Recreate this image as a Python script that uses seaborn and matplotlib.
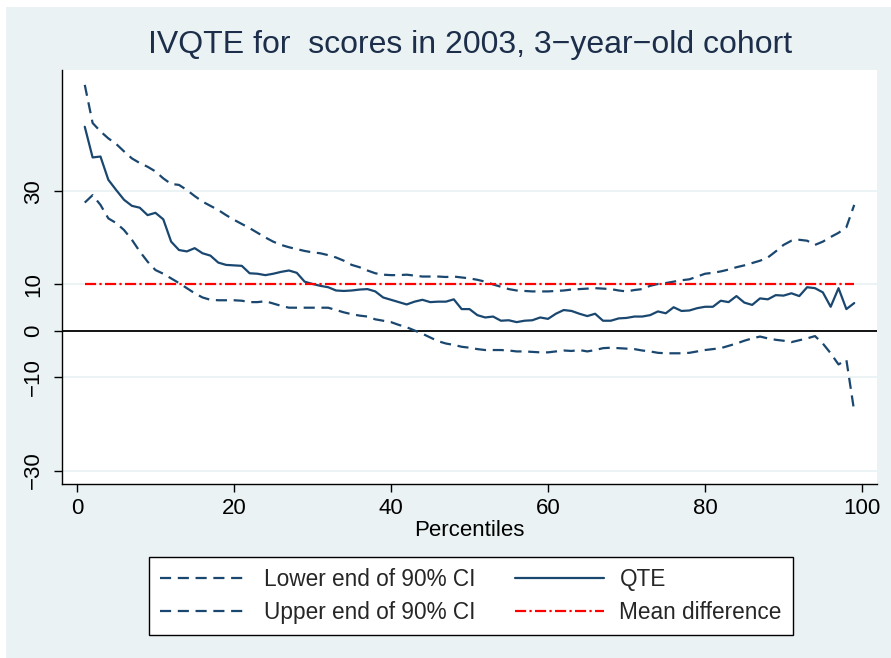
import numpy as np
import matplotlib
matplotlib.use("Agg")
import matplotlib.pyplot as plt
from matplotlib.patches import Rectangle
import seaborn as sns

# percentiles on the x axis
pct = np.arange(1, 100)

upper_ci = [52.9, 44.7, 42.9, 41.4, 40.2, 38.6, 37.1, 36.1, 35.3, 34.3,
            32.8, 31.6, 31.4, 30.3, 29.0, 27.8, 26.9, 26.0, 24.9, 23.9,
            23.0, 22.1, 21.1, 20.1, 19.2, 18.5, 18.0, 17.6, 17.2, 16.9,
            16.7, 16.3, 15.8, 15.1, 14.2, 13.7, 13.0, 12.4, 12.1, 12.0,
            12.0, 12.1, 11.9, 11.7, 11.7, 11.7, 11.6, 11.7, 11.5, 11.3,
            11.0, 10.6, 10.0, 9.5, 9.0, 8.7, 8.6, 8.5, 8.5, 8.5,
            8.6, 8.7, 8.9, 9.0, 9.1, 9.2, 9.1, 9.0, 8.7, 8.5,
            8.8, 9.0, 9.7, 10.1, 10.3, 10.6, 10.9, 11.1, 11.7, 12.3,
            12.5, 12.8, 13.2, 13.7, 14.1, 14.6, 15.1, 15.8, 17.1, 18.5,
            19.4, 19.6, 19.4, 18.5, 19.2, 20.2, 21.1, 22.3, 27.1]

qte = [43.9, 37.3, 37.5, 32.5, 30.3, 28.2, 26.9, 26.5, 24.9, 25.4,
       24.0, 19.2, 17.4, 17.1, 17.8, 16.7, 16.2, 14.7, 14.2, 14.1,
       14.0, 12.4, 12.3, 12.0, 12.3, 12.7, 13.0, 12.5, 10.6, 10.1,
       9.7, 9.4, 8.7, 8.6, 8.7, 8.9, 9.0, 8.5, 7.2, 6.7,
       6.2, 5.7, 6.3, 6.7, 6.2, 6.3, 6.3, 6.8, 4.7, 4.7,
       3.4, 2.9, 3.1, 2.2, 2.3, 1.9, 2.2, 2.3, 2.9, 2.6,
       3.7, 4.5, 4.3, 3.7, 3.2, 3.7, 2.2, 2.2, 2.7, 2.8,
       3.1, 3.1, 3.4, 4.2, 3.8, 5.1, 4.3, 4.4, 4.9, 5.2,
       5.2, 6.5, 6.2, 7.5, 6.1, 5.6, 7.0, 6.8, 7.7, 7.6,
       8.1, 7.5, 9.4, 9.2, 8.3, 5.2, 9.2, 4.7, 6.0]

lower_ci = [27.6, 29.2, 27.1, 24.2, 23.2, 21.7, 19.6, 17.1, 14.9, 13.1,
            12.3, 11.3, 10.3, 9.2, 8.1, 7.2, 6.7, 6.6, 6.6, 6.6,
            6.5, 6.2, 6.2, 6.4, 5.9, 5.4, 5.0, 5.0, 5.0, 5.0,
            5.0, 5.0, 4.5, 4.0, 3.6, 3.3, 3.1, 2.5, 2.2, 1.9,
            1.3, 0.8, 0.1, -0.6, -1.4, -2.2, -2.7, -3.0, -3.4, -3.6,
            -3.9, -4.1, -4.1, -4.1, -4.2, -4.4, -4.4, -4.5, -4.6, -4.6,
            -4.4, -4.2, -4.3, -4.1, -4.4, -4.1, -3.7, -3.6, -3.7, -3.8,
            -3.9, -4.2, -4.4, -4.7, -4.8, -4.8, -4.8, -4.7, -4.4, -4.1,
            -3.9, -3.7, -3.2, -2.7, -2.1, -1.6, -1.2, -1.6, -1.9, -2.1,
            -2.4, -2.0, -1.6, -1.1, -2.7, -4.8, -7.2, -6.2, -17.3]

mean_diff = 10.0

x_ticks = [0, 20, 40, 60, 80, 100]
y_ticks = [-30, -10, 0, 10, 30]
y_ticklabels = ["\u221230", "\u221210", "0", "10", "30"]

title = "IVQTE for  scores in 2003, 3\u2212year\u2212old cohort"

navy = "#1a476f"
bg = "#eaf2f3"

sns.set_theme(style="white")
plt.rcParams["font.family"] = ["Liberation Sans", "DejaVu Sans"]

fig = plt.figure(figsize=(8.91, 6.58), dpi=100, facecolor="white")
fig.patches.append(Rectangle((6 / 891, 0), 1 - 6 / 891, 1 - 7 / 658,
                             transform=fig.transFigure, facecolor=bg,
                             edgecolor="none", zorder=-10))

ax = fig.add_axes([62 / 891, 1 - 484 / 658, (877 - 62) / 891, (484 - 70) / 658])
ax.set_facecolor("white")

for yt in y_ticks:
    if yt != 0:
        ax.axhline(yt, color=bg, lw=1.3, zorder=0)
ax.axhline(0, color="black", lw=1.3, zorder=1)

dash = (0, (5, 3))
sns.lineplot(x=pct, y=lower_ci, ax=ax, color=navy, lw=1.6, linestyle=dash)
sns.lineplot(x=pct, y=upper_ci, ax=ax, color=navy, lw=1.6, linestyle=dash)
sns.lineplot(x=pct, y=qte, ax=ax, color=navy, lw=1.6)
sns.lineplot(x=pct, y=np.full(len(pct), mean_diff), ax=ax, color="red",
             lw=1.6, linestyle=(0, (5, 1.5, 1, 1.5)))

ax.set_xlim(-1.9, 101.9)
ax.set_ylim(-32.9, 56.1)
ax.set_xticks(x_ticks)
ax.set_yticks(y_ticks)
ax.set_yticklabels(y_ticklabels, rotation=90, va="center")
ax.tick_params(axis="both", which="major", direction="out", length=6,
               width=1, color="black", labelsize=16, labelcolor="black",
               left=True, bottom=True)
ax.tick_params(axis="y", pad=7)
ax.tick_params(axis="x", pad=4)
ax.set_xlabel("Percentiles", fontsize=16, color="black", labelpad=1)
ax.set_ylabel("")

for side in ["top", "right"]:
    ax.spines[side].set_visible(False)
for side in ["left", "bottom"]:
    ax.spines[side].set_color("black")
    ax.spines[side].set_linewidth(1)

fig.text(470 / 891, 1 - 45 / 658, title, ha="center", va="center",
         fontsize=23, color="#1c2e4a")

lines = ax.get_lines()
handles = [l for l in lines if l.get_color() in (navy, "red")]
labels = ["Lower end of 90% CI", "Upper end of 90% CI", "QTE", "Mean difference"]
leg = fig.legend(handles, labels, loc="center", ncol=2,
                 bbox_to_anchor=(471 / 891, 1 - 596 / 658),
                 fontsize=16.3, frameon=True, fancybox=False, framealpha=1,
                 edgecolor="black", facecolor="white", handlelength=3.9,
                 handletextpad=0.7, columnspacing=1.75, labelspacing=0.45,
                 borderpad=0.5)
leg.get_frame().set_linewidth(1)

fig.savefig("out.png", dpi=100, facecolor=fig.get_facecolor())
